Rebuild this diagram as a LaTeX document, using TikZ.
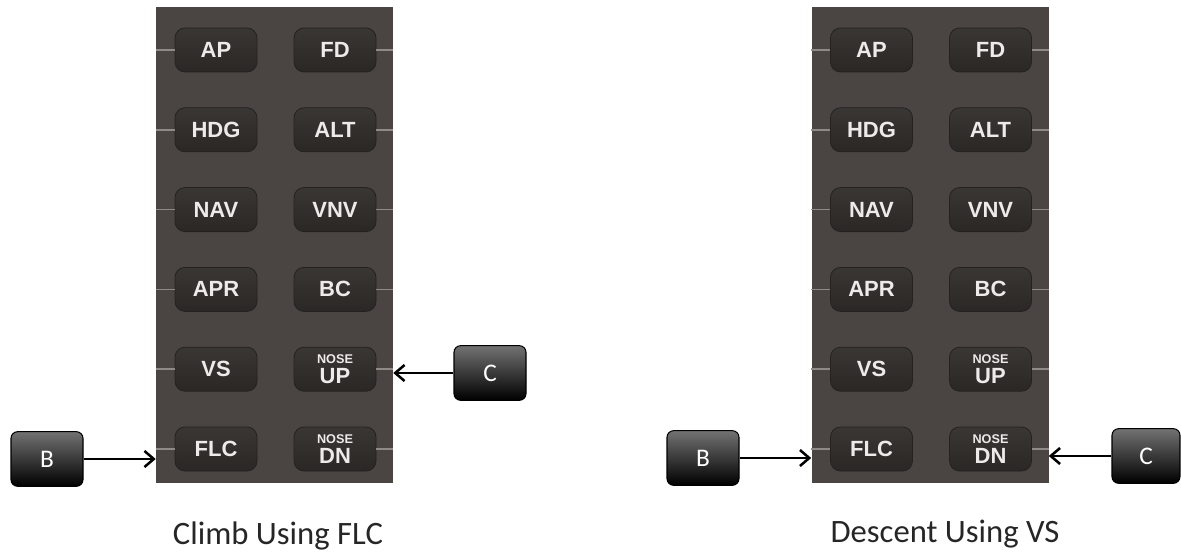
\documentclass[tikz,border=0pt]{standalone}
\usepackage{fontspec}
\setmainfont{Carlito}
\newfontfamily\btnfont{Liberation Sans}
\usetikzlibrary{arrows.meta}
\definecolor{panelc}{HTML}{4A4543}
\definecolor{btntop}{HTML}{3A3634}
\definecolor{btnbot}{HTML}{2A2725}
\definecolor{btnedge}{HTML}{242120}
\definecolor{btntext}{HTML}{EDEBE9}
\definecolor{tickc}{HTML}{8F8A88}
\definecolor{taglight}{HTML}{727272}
\tikzset{
  panelbox/.style={fill=panelc, draw=none, minimum width=177.75pt, minimum height=357pt, inner sep=0pt},
  btn/.style={rounded corners=7.5pt, minimum width=61.5pt, minimum height=33pt, top color=btntop, bottom color=btnbot, draw=btnedge, line width=0.6pt, text=btntext, font=\btnfont\bfseries\fontsize{16.5}{16.5}\selectfont, inner sep=0pt, align=center},
  tickline/.style={draw=tickc, line width=1.2pt},
  tagbox/.style={rounded corners=5pt, minimum width=54pt, minimum height=41pt, top color=taglight, bottom color=black, draw=black, line width=0.8pt, text=white, font=\fontsize{19}{19}\selectfont, inner sep=0pt},
  arr/.style={-{Straight Barb[length=7pt,width=12pt,line width=1.9pt]}, line width=1.9pt},
  captxt/.style={font=\fontsize{24.5}{26}\selectfont, text=black!85, inner sep=0pt}
}
\newcommand{\noselbl}[1]{{\fontsize{9.5}{9.5}\selectfont NOSE}\\[-2pt]#1}
\begin{document}
\begin{tikzpicture}[x=0.75pt,y=-0.75pt]
\useasboundingbox (0,0) rectangle (1181,556);
\fill[white] (0,0) rectangle (1181,556);
\foreach \px/\pn in {274.5/L, 930/R} {
  \node[panelbox] (\pn-panel) at (\px,245) {};
  \foreach \i/\la/\lb in {0/AP/FD, 1/HDG/ALT, 2/NAV/VNV, 3/APR/BC, 4/VS/NU, 5/FLC/ND} {
    \pgfmathsetmacro{\yy}{50+79.8*\i}
    \ifnum\i<4
      \node[btn] (\pn-\la) at (\px-58.5,\yy) {\la};
      \node[btn] (\pn-\lb) at (\px+60.5,\yy) {\lb};
    \fi
    \ifnum\i=4
      \node[btn] (\pn-\la) at (\px-58.5,\yy) {\la};
      \node[btn] (\pn-\lb) at (\px+60.5,\yy) {\noselbl{UP}};
    \fi
    \ifnum\i=5
      \node[btn] (\pn-\la) at (\px-58.5,\yy) {\la};
      \node[btn] (\pn-\lb) at (\px+60.5,\yy) {\noselbl{DN}};
    \fi
    \draw[tickline] (\pn-panel.west |- \pn-\la.west) -- (\pn-\la.west);
    \draw[tickline] (\pn-\lb.east) -- (\pn-panel.east |- \pn-\lb.east);
  }
}
% left tags
\node[tagbox] (LB) at (47,459) {B};
\node[tagbox] (LC) at (490,373) {C};
\draw[arr] (LB.east) -- (LB.east -| L-panel.west);
\draw[arr] (LC.west) -- (LC.west -| L-panel.east);
% right tags
\node[tagbox] (RB) at (703,458) {B};
\node[tagbox, minimum width=51pt] (RC) at (1146,456) {C};
\draw[arr] (RB.east) -- (RB.east -| R-panel.west);
\draw[arr] (RC.west) -- (RC.west -| R-panel.east);
% captions
\node[captxt] (Lcap) at (278,536) {Climb Using FLC};
\node[captxt] (Rcap) at (945,534) {Descent Using VS};
\end{tikzpicture}
\end{document}
